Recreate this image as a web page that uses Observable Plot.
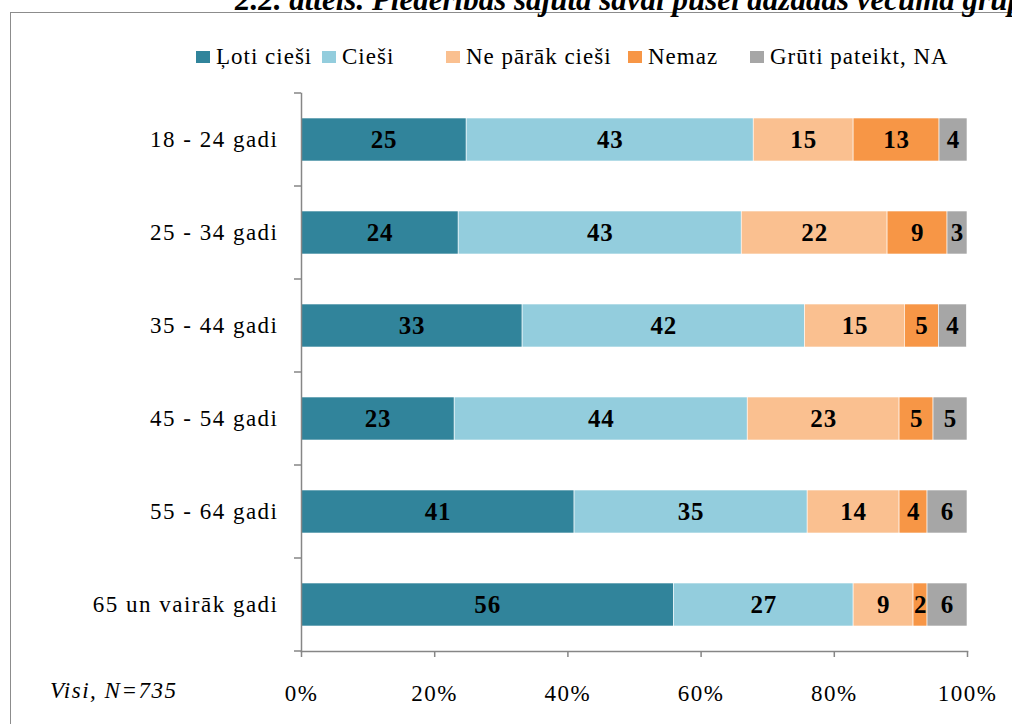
<!DOCTYPE html>
<html>
<head>
<meta charset="utf-8">
<script src="https://cdn.jsdelivr.net/npm/d3@7"></script>
<script src="https://cdn.jsdelivr.net/npm/@observablehq/plot@0.6"></script>
<style>
  html, body { margin: 0; padding: 0; background: #fff; overflow: hidden; }
  #wrap { position: relative; width: 1012px; height: 724px; overflow: hidden; font-family: "Liberation Serif", "Times New Roman", serif; }
  #frame { position: absolute; left: 10px; top: 12px; width: 1100px; height: 800px; border: 1px solid #8c8c8c; box-sizing: border-box; }
  #title { position: absolute; left: 235px; top: -16px; white-space: nowrap; font-weight: bold; font-style: italic; font-size: 31px; line-height: 1; color: #000; }
  #legend { position: absolute; left: 0; top: 44px; width: 1012px; height: 28px; font-size: 23px; letter-spacing: 1px; color: #000; }
  .item { position: absolute; top: 0; display: flex; align-items: center; white-space: nowrap; }
  .sw { width: 14px; height: 12px; margin-right: 6px; }
  #caption { position: absolute; left: 50px; top: 678px; font-style: italic; font-size: 23px; letter-spacing: 1.5px; color: #000; }
  #chart { position: absolute; left: 0; top: 0; }
  #chart svg text { letter-spacing: 1.5px; }
</style>
</head>
<body>
<div id="wrap">
  <div id="frame"></div>
  <div id="title"></div>
  <div id="chart"></div>
  <div id="legend"></div>
  <div id="caption"></div>
</div>
<script>
const titleText = "2.2. attēls. Piederības sajūta savai pusei dažādās vecuma grupās";
const captionText = "Visi, N=735";
const categories = ["18 - 24 gadi", "25 - 34 gadi", "35 - 44 gadi", "45 - 54 gadi", "55 - 64 gadi", "65 un vairāk gadi"];
const seriesNames = ["Ļoti cieši", "Cieši", "Ne pārāk cieši", "Nemaz", "Grūti pateikt, NA"];
const seriesColors = ["#31849B", "#93CDDD", "#FAC090", "#F79646", "#A6A6A6"];
const lotiCiesi   = [24.8, 23.6, 33.2, 23.0, 41.0, 55.9];
const ciesi       = [43.1, 42.5, 42.4, 44.0, 35.0, 27.0];
const neParakCiesi = [15.0, 21.9, 15.0, 22.8, 13.8, 9.0];
const nemaz       = [12.9, 9.0, 5.1, 5.1, 4.2, 2.1];
const grutiPateikt = [4.2, 3.0, 4.2, 5.1, 6.0, 6.0];
const xTicks = [0, 20, 40, 60, 80, 100];

// layout only: left edge of each legend entry
const legendLeft = [196, 322, 446, 628, 750];

const seriesValues = [lotiCiesi, ciesi, neParakCiesi, nemaz, grutiPateikt];
const data = [];
categories.forEach((c, i) => {
  seriesNames.forEach((s, j) => {
    data.push({age: c, series: s, value: seriesValues[j][i]});
  });
});

document.getElementById("title").textContent = titleText;
document.getElementById("caption").textContent = captionText;

const legend = document.getElementById("legend");
seriesNames.forEach((s, j) => {
  const it = document.createElement("div");
  it.className = "item";
  it.style.left = legendLeft[j] + "px";
  const sw = document.createElement("div");
  sw.className = "sw";
  sw.style.background = seriesColors[j];
  const lb = document.createElement("span");
  lb.textContent = s;
  it.appendChild(sw); it.appendChild(lb);
  legend.appendChild(it);
});

const axisColor = "#868686";
const plot = Plot.plot({
  width: 1012,
  height: 724,
  marginLeft: 301,
  marginRight: 45,
  marginTop: 93,
  marginBottom: 73,
  style: {fontFamily: "'Liberation Serif', 'Times New Roman', serif", fontSize: "23px", color: "#000", background: "transparent"},
  x: {domain: [0, 100], ticks: xTicks, tickFormat: d => d + "%", tickSize: 6, tickPadding: 27, label: null},
  y: {domain: categories, paddingInner: 0.54, paddingOuter: 0.27, tickSize: 0, tickPadding: 23, label: null},
  color: {domain: seriesNames, range: seriesColors},
  marks: [
    Plot.barX(data, Plot.stackX({x: "value", y: "age", fill: "series", stroke: "#fff", strokeWidth: 0.6})),
    Plot.text(data, Plot.stackX({x: "value", y: "age", z: "series", text: d => String(Math.round(d.value)), fontWeight: "bold", fontSize: 25, fill: "#000"})),
    Plot.frame({anchor: "left", stroke: axisColor, strokeWidth: 1.5}),
    Plot.frame({anchor: "bottom", stroke: axisColor, strokeWidth: 1.5})
  ]
});
document.getElementById("chart").appendChild(plot);

d3.select(plot).selectAll("[aria-label='x-axis tick'] path, [aria-label='x-axis tick'] line").attr("stroke", axisColor).attr("stroke-width", 1.5);
d3.select(plot).selectAll("[aria-label='text'] text").style("letter-spacing", "0.8px");

// y-axis ticks at category boundaries, via the plot's own band scale
const ys = plot.scale("y");
const gap = (ys.step - ys.bandwidth) / 2;
const bounds = categories.map(c => ys.apply(c) - gap);
bounds.push(ys.apply(categories[categories.length - 1]) + ys.bandwidth + gap);
const x0 = plot.scale("x").apply(0);
d3.select(plot).append("g").attr("aria-label", "y-boundary ticks")
  .selectAll("line").data(bounds).join("line")
  .attr("x1", x0 - 7).attr("x2", x0).attr("y1", d => d).attr("y2", d => d)
  .attr("stroke", axisColor).attr("stroke-width", 1.5);
</script>
</body>
</html>
